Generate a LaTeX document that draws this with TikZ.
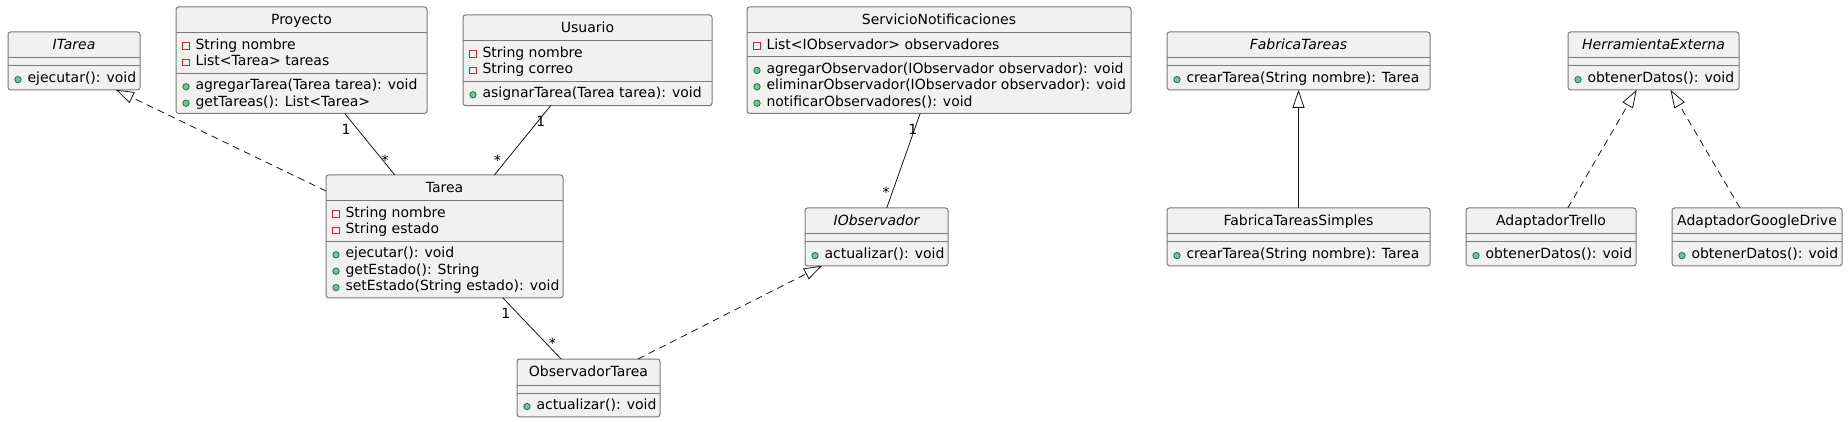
\documentclass[tikz,border=0pt]{standalone}
\usepackage{fontspec}
\setmainfont{DejaVu Sans}
\usetikzlibrary{arrows.meta,calc}
\definecolor{boxfill}{HTML}{F1F1F1}
\definecolor{boxline}{HTML}{7A7A7A}
\definecolor{conn}{HTML}{181818}
\definecolor{privred}{HTML}{C82930}
\definecolor{pubfill}{HTML}{84BE84}
\definecolor{publine}{HTML}{038048}
\tikzset{
  cls/.style={rectangle, draw=boxline, fill=boxfill, line width=1pt, rounded corners=2.5pt, inner sep=0pt, outer sep=0pt},
  sepl/.style={draw=boxline, line width=1pt},
  txt/.style={inner sep=0pt, outer sep=0pt, font=\fontsize{14pt}{16pt}\selectfont, text=black},
  itxt/.style={txt, font=\fontsize{14pt}{16pt}\selectfont\itshape},
  assoc/.style={draw=conn, line width=0.8pt},
  realz/.style={draw=conn, line width=0.8pt, dash pattern=on 7pt off 5pt, -{Triangle[open, length=18pt, width=12pt]}},
  gen/.style={draw=conn, line width=0.8pt, -{Triangle[open, length=18pt, width=12pt]}},
  privicon/.style={draw=privred, line width=0.9pt},
  pubicon/.style={draw=publine, fill=pubfill, line width=0.8pt},
  mult/.style={txt, anchor=base},
}
\newcommand\UClass[5]{\node[cls, minimum width=#4pt, minimum height=#5pt, anchor=north west] (#1) at (#2,#3) {};}
\newcommand\USep[2]{\draw[sepl] ([shift={(0,#2)}]#1.north west) -- ([shift={(0,#2)}]#1.north east);}
\newcommand\UTitle[3]{\node[#2, anchor=base] (#1-title) at ([shift={(0,17.3)}]#1.north) {#3};\USep{#1}{26}}
\newcommand\UPriv[4]{%
  \draw[privicon] ([shift={(6.7,#3-7)}]#1.north west) rectangle ([shift={(13.3,#3-0.4)}]#1.north west);
  \node[txt, anchor=base west] (#1-#2) at ([shift={(19.5,#3)}]#1.north west) {#4};}
\newcommand\UPub[4]{%
  \draw[pubicon] ([shift={(10,#3-3)}]#1.north west) circle[radius=3.2pt];
  \node[txt, anchor=base west] (#1-#2) at ([shift={(19.5,#3)}]#1.north west) {#4};}
\begin{document}
\begin{tikzpicture}[x=1pt,y=-1pt]
\fill[white] (0,0) rectangle (1848,422);
\useasboundingbox (0,0) rectangle (1848,422);

% ITarea
\UClass{itarea}{8}{32}{132}{57.8}
\UTitle{itarea}{itxt}{ITarea}
\USep{itarea}{34}
\UPub{itarea}{m1}{50.6}{ejecutar(): void}

% Proyecto
\UClass{proyecto}{176}{7}{251}{106.4}
\UTitle{proyecto}{txt}{Proyecto}
\UPriv{proyecto}{a1}{42.6}{String nombre}
\UPriv{proyecto}{a2}{59}{List<Tarea> tareas}
\USep{proyecto}{66.2}
\UPub{proyecto}{m1}{82.8}{agregarTarea(Tarea tarea): void}
\UPub{proyecto}{m2}{99.2}{getTareas(): List<Tarea>}

% Usuario
\UClass{usuario}{463}{15}{249}{90.6}
\UTitle{usuario}{txt}{Usuario}
\UPriv{usuario}{a1}{42.6}{String nombre}
\UPriv{usuario}{a2}{59}{String correo}
\USep{usuario}{66.2}
\UPub{usuario}{m1}{82.8}{asignarTarea(Tarea tarea): void}

% ServicioNotificaciones
\UClass{servicio}{747}{7}{384}{106.4}
\UTitle{servicio}{txt}{ServicioNotificaciones}
\UPriv{servicio}{a1}{42.6}{List<IObservador> observadores}
\USep{servicio}{49.8}
\UPub{servicio}{m1}{66.4}{agregarObservador(IObservador observador): void}
\UPub{servicio}{m2}{82.8}{eliminarObservador(IObservador observador): void}
\UPub{servicio}{m3}{99.2}{notificarObservadores(): void}

% FabricaTareas
\UClass{fabrica}{1167}{32}{263}{57.8}
\UTitle{fabrica}{itxt}{FabricaTareas}
\USep{fabrica}{34}
\UPub{fabrica}{m1}{50.6}{crearTarea(String nombre): Tarea}

% HerramientaExterna
\UClass{herramienta}{1568}{32}{171}{57.8}
\UTitle{herramienta}{itxt}{HerramientaExterna}
\USep{herramienta}{34}
\UPub{herramienta}{m1}{50.6}{obtenerDatos(): void}

% Tarea
\UClass{tarea}{326}{175}{237}{122.8}
\UTitle{tarea}{txt}{Tarea}
\UPriv{tarea}{a1}{42.6}{String nombre}
\UPriv{tarea}{a2}{59}{String estado}
\USep{tarea}{66.2}
\UPub{tarea}{m1}{82.8}{ejecutar(): void}
\UPub{tarea}{m2}{99.2}{getEstado(): String}
\UPub{tarea}{m3}{115.6}{setEstado(String estado): void}

% IObservador
\UClass{iobs}{805}{208}{143}{57.8}
\UTitle{iobs}{itxt}{IObservador}
\USep{iobs}{34}
\UPub{iobs}{m1}{50.6}{actualizar(): void}

% FabricaTareasSimples
\UClass{fts}{1167}{208}{263}{57.8}
\UTitle{fts}{txt}{FabricaTareasSimples}
\USep{fts}{34}
\UPub{fts}{m1}{50.6}{crearTarea(String nombre): Tarea}

% AdaptadorTrello
\UClass{trello}{1466}{208}{170}{57.8}
\UTitle{trello}{txt}{AdaptadorTrello}
\USep{trello}{34}
\UPub{trello}{m1}{50.6}{obtenerDatos(): void}

% AdaptadorGoogleDrive
\UClass{gdrive}{1672}{208}{170}{57.8}
\UTitle{gdrive}{txt}{AdaptadorGoogleDrive}
\USep{gdrive}{34}
\UPub{gdrive}{m1}{50.6}{obtenerDatos(): void}

% ObservadorTarea
\UClass{obstarea}{517}{359}{143}{57.8}
\UTitle{obstarea}{txt}{ObservadorTarea}
\USep{obstarea}{34}
\UPub{obstarea}{m1}{50.6}{actualizar(): void}

% connectors
\draw[realz] ([shift={(0,16)}]tarea.north west) -- ([shift={(108,0)}]itarea.south west);
\draw[assoc] (proyecto) -- (tarea);
\draw[assoc] (usuario) -- (tarea);
\draw[assoc] (servicio) -- (iobs);
\draw[assoc] (tarea) -- (obstarea);
\draw[realz] ([shift={(121,0)}]obstarea.north west) -- ([shift={(17,0)}]iobs.south west);
\draw[gen] (fts) -- (fabrica);
\draw[realz] (trello) -- (herramienta);
\draw[realz] (gdrive) -- (herramienta);

% multiplicities
\node[mult] (pt1) at (346,135) {1};
\node[mult] (pts) at (385,165.8) {*};
\node[mult] (ut1) at (540.7,126.7) {1};
\node[mult] (uts) at (497.3,165.8) {*};
\node[mult] (si1) at (912.7,135) {1};
\node[mult] (sis) at (886,197.8) {*};
\node[mult] (to1) at (505.7,318.3) {1};
\node[mult] (tos) at (552.3,348.8) {*};
\end{tikzpicture}
\end{document}
